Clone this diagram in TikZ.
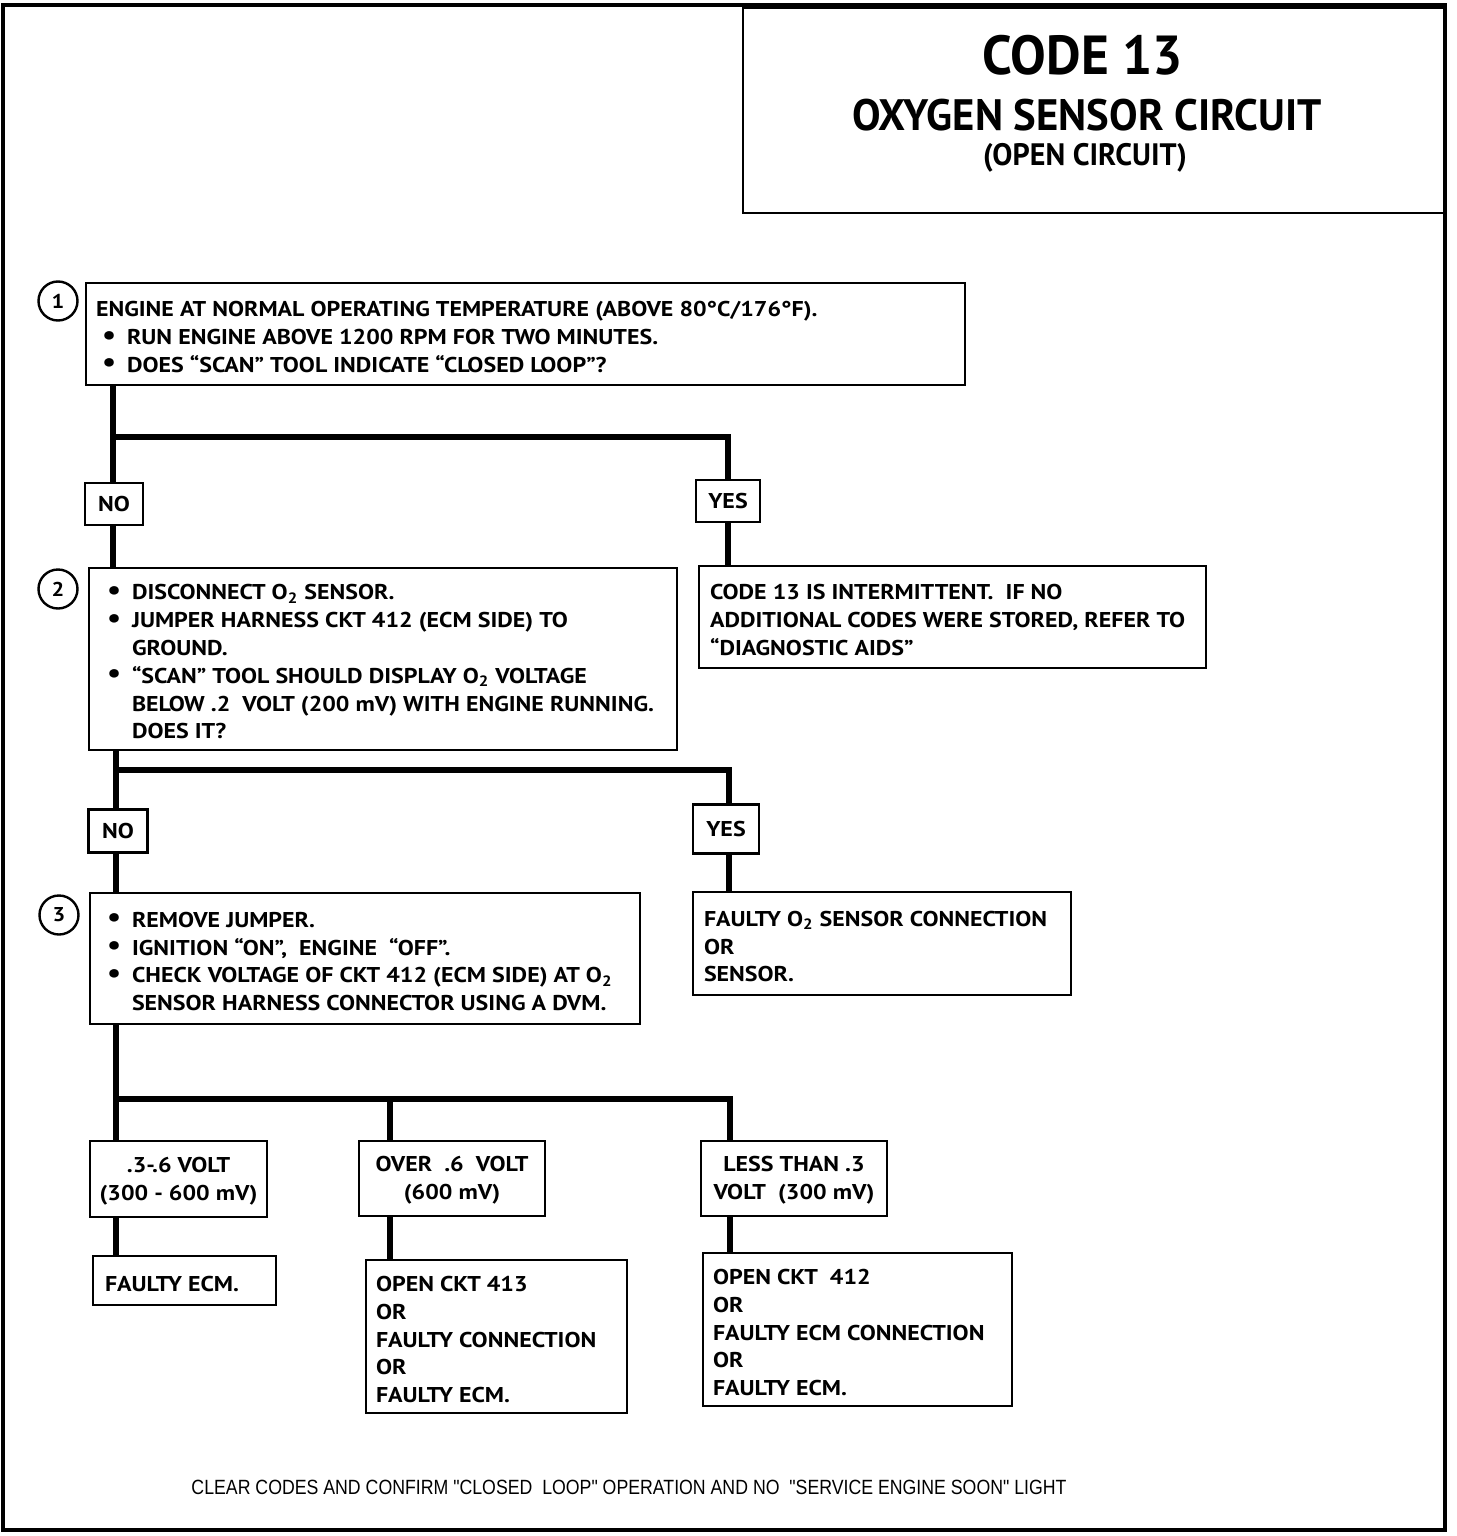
\documentclass[tikz,border=0pt]{standalone}
\usepackage{fontspec}
\usepackage{graphicx}
\setmainfont{PT Sans}[FakeStretch=1.12]
\newfontfamily\titlefont{PT Sans}[FakeStretch=0.97]
\newfontfamily\footfont{Liberation Sans}[FakeStretch=0.86]
\usetikzlibrary{fit}
\newcommand\bodyfont{\bfseries\fontsize{10.7}{13.9}\selectfont}
\newcommand\bul{\makebox[12.5pt][l]{\raisebox{0.2pt}{\scalebox{1.3}{\textbullet}}}}
\newcommand\ind{\hspace*{12.5pt}}
\begin{document}
\begin{tikzpicture}[x=0.5pt, y=-0.5pt,
  box/.style={draw, line width=1.4pt, inner sep=0pt},
  small/.style={draw, line width=1.4pt, inner sep=0pt, font=\bodyfont},
  txt/.style={inner sep=0pt, align=left, font=\bodyfont, anchor=west},
  ctxt/.style={inner sep=0pt, align=center, font=\bodyfont},
  conn/.style={line width=3.4pt},
  numc/.style={draw, circle, line width=1.2pt, minimum size=19.5pt, inner sep=0pt, font=\bfseries\fontsize{10}{10}\selectfont}]
\useasboundingbox (0,0) rectangle (1456,1536);
% frame and title
\node[draw, line width=2pt, inner sep=0pt, fit={(3,5)(1445,1530)}] (frame) {};
\node[draw, line width=1.4pt, inner sep=0pt, fit={(743,8)(1445,213)}] (title) {};
\node[inner sep=0pt, font=\titlefont\bfseries\fontsize{27.5}{30}\selectfont] (t1) at (1083,55) {CODE 13};
\node[inner sep=0pt, font=\titlefont\bfseries\fontsize{22}{24}\selectfont] (t2) at (1087,115) {OXYGEN SENSOR CIRCUIT};
\node[inner sep=0pt, font=\titlefont\bfseries\fontsize{15.5}{17}\selectfont] (t3) at (1085,158) {(OPEN CIRCUIT)};
% step circles
\node[numc] (c1) at (58,301) {1};
\node[numc] (c2) at (58,589) {2};
\node[numc] (c3) at (59,915) {3};
% box 1
\node[box, fit={(86,283)(965,385)}] (b1) {};
\node[txt] (b1t) at ([xshift=5.5pt,yshift=-1.5pt]b1.west) {ENGINE AT NORMAL OPERATING TEMPERATURE (ABOVE 80°C/176°F).\\
\hspace*{3pt}\bul RUN ENGINE ABOVE 1200 RPM FOR TWO MINUTES.\\
\hspace*{3pt}\bul DOES “SCAN” TOOL INDICATE “CLOSED LOOP”?};
% NO / YES 1
\node[small, minimum width=29pt, minimum height=21pt] (no1) at (114,504) {NO};
\node[small, minimum width=32pt, minimum height=21pt] (yes1) at (728,501) {YES};
% box 2
\node[box, fit={(89,568)(677,750)}] (b2) {};
\node[txt] (b2t) at ([xshift=9.5pt,yshift=-1.5pt]b2.west) {\bul DISCONNECT O\textsubscript{2} SENSOR.\\
\bul JUMPER HARNESS CKT 412 (ECM SIDE) TO\\
\ind GROUND.\\
\bul “SCAN” TOOL SHOULD DISPLAY O\textsubscript{2} VOLTAGE\\
\ind BELOW .2\ \ VOLT (200 mV) WITH ENGINE RUNNING.\\
\ind DOES IT?};
% result 1
\node[box, fit={(699,566)(1206,668)}] (r1) {};
\node[txt] (r1t) at ([xshift=6pt,yshift=-1.5pt]r1.west) {CODE 13 IS INTERMITTENT.\ \ IF NO\\
ADDITIONAL CODES WERE STORED, REFER TO\\
“DIAGNOSTIC AIDS”};
% NO / YES 2
\node[small, minimum width=29.5pt, minimum height=21.5pt] (no2) at (118,831) {NO};
\node[small, minimum width=33pt, minimum height=24.5pt] (yes2) at (726,829) {YES};
% box 3
\node[box, fit={(90,893)(640,1024)}] (b3) {};
\node[txt] (b3t) at ([xshift=9pt,yshift=-1.5pt]b3.west) {\bul REMOVE JUMPER.\\
\bul IGNITION “ON”,\ \ ENGINE\ \ “OFF”.\\
\bul CHECK VOLTAGE OF CKT 412 (ECM SIDE) AT O\textsubscript{2}\\
\ind SENSOR HARNESS CONNECTOR USING A DVM.};
% result 2
\node[box, fit={(693,892)(1071,995)}] (r2) {};
\node[txt] (r2t) at ([xshift=6pt,yshift=-1.5pt]r2.west) {FAULTY O\textsubscript{2} SENSOR CONNECTION\\
OR\\
SENSOR.};
% voltage boxes
\node[box, fit={(90,1141)(267,1217)}] (vA) {};
\node[ctxt] (vAt) at ([yshift=-1pt]vA.center) {.3-.6 VOLT\\(300 - 600 mV)};
\node[box, fit={(359,1141)(545,1216)}] (vB) {};
\node[ctxt] (vBt) at ([yshift=-1pt]vB.center) {OVER\ \ .6\ \ VOLT\\(600 mV)};
\node[box, fit={(701,1141)(887,1216)}] (vC) {};
\node[ctxt] (vCt) at ([yshift=-1pt]vC.center) {LESS THAN .3\\VOLT\ \ (300 mV)};
% final boxes
\node[box, fit={(93,1256)(276,1305)}] (fA) {};
\node[txt] (fAt) at ([xshift=6.5pt,yshift=-1.5pt]fA.west) {FAULTY ECM.};
\node[box, fit={(366,1260)(627,1413)}] (fB) {};
\node[txt] (fBt) at ([xshift=5.5pt,yshift=-1.5pt]fB.west) {OPEN CKT 413\\OR\\FAULTY CONNECTION\\OR\\FAULTY ECM.};
\node[box, fit={(703,1253)(1012,1406)}] (fC) {};
\node[txt] (fCt) at ([xshift=5.5pt,yshift=-1.5pt]fC.west) {OPEN CKT\ \ 412\\OR\\FAULTY ECM CONNECTION\\OR\\FAULTY ECM.};
% footer
\node[inner sep=0pt, font=\footfont\fontsize{10.3}{12}\selectfont] (foot) at (629,1487) {CLEAR CODES AND CONFIRM "CLOSED\ \ LOOP" OPERATION AND NO\ \ "SERVICE ENGINE SOON" LIGHT};
% junction coordinates
\coordinate (j1) at (113,437);
\coordinate (j1r) at (728,437);
\coordinate (j2) at (116,770);
\coordinate (j2r) at (729,770);
\coordinate (j3a) at (116,1099);
\coordinate (j3b) at (390,1099);
\coordinate (j3c) at (730,1099);
% connectors
\draw[conn] (b1.south -| j1) -- (j1 |- no1.north);
\draw[conn] (j1) -- (j1r) -- (j1r |- yes1.north);
\draw[conn] (no1.south -| j1) -- (j1 |- b2.north);
\draw[conn] (yes1.south -| j1r) -- (j1r |- r1.north);
\draw[conn] (b2.south -| j2) -- (j2 |- no2.north);
\draw[conn] (j2) -- (j2r) -- (j2r |- yes2.north);
\draw[conn] (no2.south -| j2) -- (j2 |- b3.north);
\draw[conn] (yes2.south -| j2r) -- (j2r |- r2.north);
\draw[conn] (b3.south -| j3a) -- (j3a |- vA.north);
\draw[conn] (j3a) -- (j3c) -- (j3c |- vC.north);
\draw[conn] (j3b) -- (j3b |- vB.north);
\draw[conn] (vA.south -| j3a) -- (j3a |- fA.north);
\draw[conn] (vB.south -| j3b) -- (j3b |- fB.north);
\draw[conn] (vC.south -| j3c) -- (j3c |- fC.north);
\end{tikzpicture}
\end{document}
